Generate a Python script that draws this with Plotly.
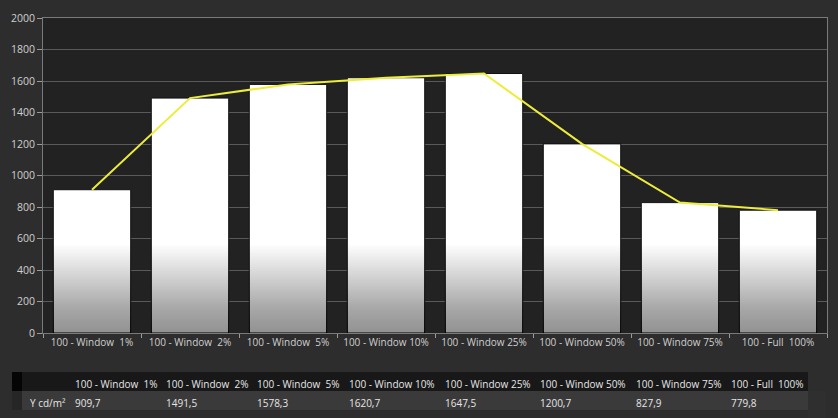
import numpy as np
import plotly.graph_objects as go

NB = "\u00a0"
categories = [
    "100 - Window " + NB + "1%",
    "100 - Window " + NB + "2%",
    "100 - Window " + NB + "5%",
    "100 - Window 10%",
    "100 - Window 25%",
    "100 - Window 50%",
    "100 - Window 75%",
    "100 - Full " + NB + "100%",
]
values = [909.7, 1491.5, 1578.3, 1620.7, 1647.5, 1200.7, 827.9, 779.8]
row_label = "Y cd/m²"
y_ticks = [0, 200, 400, 600, 800, 1000, 1200, 1400, 1600, 1800, 2000]

W, H = 838, 418
FONT = "Open Sans"
TXT = "#cfcfcf"

fig = go.Figure()

# white bars with dark outline
fig.add_trace(go.Bar(
    x=categories, y=values,
    marker=dict(color="#ffffff", line=dict(color="#111111", width=1)),
    hoverinfo="skip", showlegend=False,
))

# gradient at bar bottoms via stacked translucent overlays
GRAD_TOP = 560
K = 40
alpha = 1 - 0.62 ** (1 / K)
vals = np.array(values)
for k in range(K):
    fig.add_trace(go.Bar(
        x=categories, y=np.minimum(vals, GRAD_TOP * (k + 1) / K),
        marker=dict(color=f"rgba(0,0,0,{alpha:.4f})", line=dict(width=0)),
        hoverinfo="skip", showlegend=False,
    ))

# yellow line
fig.add_trace(go.Scatter(
    x=categories, y=values, mode="lines",
    line=dict(color="#ecec3a", width=2),
    hoverinfo="skip", showlegend=False,
))

# table below
def nowrap(s):
    return s.replace(" ", NB)

fmt = [f"{v:.1f}".replace(".", ",") for v in values]
header_vals = ["", ""] + [nowrap(c) for c in categories]
cell_vals = [[""], [nowrap(row_label)]] + [[s] for s in fmt]
hdr_fill = ["#050505"] + ["#181818"] * (len(header_vals) - 1)
cell_fill = ["#262626"] + ["#3a3a3a"] * (len(header_vals) - 1)
fig.add_trace(go.Table(
    domain=dict(x=[12 / W, 808 / W], y=[0, (H - 372) / H]),
    columnwidth=[10, 45, 91, 91, 92, 96, 95, 96, 95, 85],
    header=dict(values=header_vals, fill_color=hdr_fill, height=19,
                align="left", line=dict(width=0),
                font=dict(family=FONT, size=10, color="#e6e6e6")),
    cells=dict(values=cell_vals, fill_color=cell_fill, height=19,
               align="left", line=dict(width=0),
               font=dict(family=FONT, size=10, color="#e6e6e6")),
))

fig.update_layout(
    width=W, height=H,
    margin=dict(l=0, r=0, t=0, b=0),
    paper_bgcolor="#2d2d2d", plot_bgcolor="#222222",
    barmode="overlay", bargap=0.21,
    font=dict(family=FONT, size=10, color=TXT),
    xaxis=dict(domain=[43 / W, 827 / W], showgrid=False, automargin=False,
               showline=True, linecolor="#7a7a7a", mirror=True,
               ticks="outside", tickson="boundaries", ticklen=4,
               tickcolor="#9a9a9a", tickfont=dict(size=10, color=TXT),
               fixedrange=True),
    yaxis=dict(domain=[(H - 333) / H, (H - 18) / H], range=[0, 2000],
               automargin=False,
               tickvals=y_ticks, showgrid=True, gridcolor="#5a5a5a",
               gridwidth=1, zeroline=False,
               showline=True, linecolor="#7a7a7a", mirror=True,
               ticks="outside", ticklen=5, tickcolor="#9a9a9a",
               tickfont=dict(size=10.5, color=TXT), fixedrange=True),
)

fig.write_html("out.html")
